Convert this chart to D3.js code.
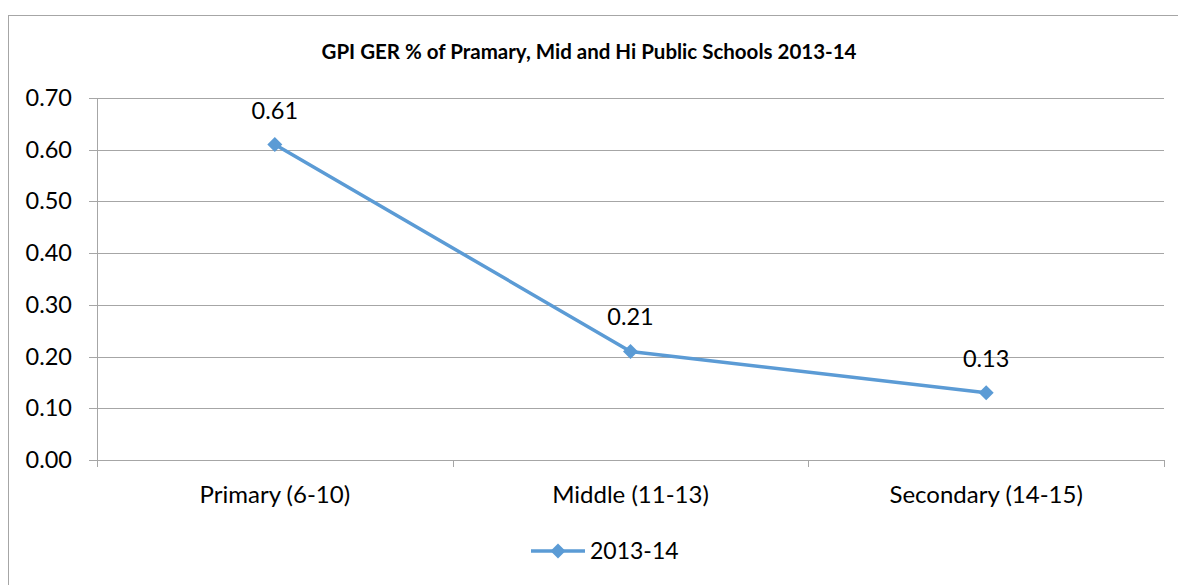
<!DOCTYPE html>
<html><head><meta charset="utf-8">
<script src="https://cdn.jsdelivr.net/npm/d3@7"></script>
<style>body{margin:0;background:#fff}svg{display:block}text{font-family:Lato,"Open Sans",sans-serif}</style>
</head><body>
<svg id="c" width="1178" height="585"></svg>
<script>
const categories = ["Primary (6-10)", "Middle (11-13)", "Secondary (14-15)"];
const values = [0.61, 0.21, 0.13];
const seriesName = "2013-14";
const yTicks = [0, 0.1, 0.2, 0.3, 0.4, 0.5, 0.6, 0.7];
const title = "GPI GER % of Pramary, Mid and Hi Public Schools 2013-14";

const svg = d3.select("#c");
const color = "#5b9bd5", grid = "#a6a6a6";
const L = 97, R = 1164, T = 98, B = 460;
const marker = "M0,-7.5L7.5,0L0,7.5L-7.5,0Z";

svg.append("rect").attr("x", 8.5).attr("y", 15.5).attr("width", 1200).attr("height", 600)
  .attr("fill", "#fff").attr("stroke", "#a6a6a6").attr("stroke-width", 1);

svg.append("text").attr("x", 589).attr("y", 58.5).attr("text-anchor", "middle")
  .attr("font-size", 20.5).attr("font-weight", "bold").text(title);

const x = d3.scaleBand().domain(categories).range([L, R]);
const y = d3.scaleLinear().domain([0, 0.7]).range([B, T]);

svg.append("g").selectAll("line").data(yTicks).join("line")
  .attr("x1", L - 8).attr("x2", R).attr("y1", d => Math.round(y(d)) + 0.5).attr("y2", d => Math.round(y(d)) + 0.5)
  .attr("stroke", grid).attr("stroke-width", 1);

svg.append("line").attr("x1", L + 0.5).attr("x2", L + 0.5).attr("y1", T).attr("y2", B)
  .attr("stroke", grid);

const bounds = categories.map(c => x(c)).concat([R]);
svg.append("g").selectAll("line").data(bounds).join("line")
  .attr("x1", d => Math.round(d) + 0.5).attr("x2", d => Math.round(d) + 0.5)
  .attr("y1", B).attr("y2", B + 7).attr("stroke", grid);

svg.append("g").selectAll("text").data(yTicks).join("text")
  .attr("x", 72).attr("y", d => y(d) + 8).attr("text-anchor", "end")
  .attr("font-size", 23.5).text(d => d.toFixed(2));

svg.append("g").selectAll("text").data(categories).join("text")
  .attr("x", d => x(d) + x.bandwidth() / 2).attr("y", B + 43).attr("text-anchor", "middle")
  .attr("font-size", 24).text(d => d);

const cx = (d, i) => x(categories[i]) + x.bandwidth() / 2;
const line = d3.line().x((d, i) => cx(d, i)).y(d => y(d));
svg.append("path").datum(values).attr("d", line).attr("fill", "none")
  .attr("stroke", color).attr("stroke-width", 3.5).attr("stroke-linejoin", "round");

svg.append("g").selectAll("path").data(values).join("path")
  .attr("transform", (d, i) => `translate(${cx(d, i)},${y(d)})`)
  .attr("d", marker).attr("fill", color);

svg.append("g").selectAll("text").data(values).join("text")
  .attr("x", (d, i) => cx(d, i)).attr("y", d => y(d) - 26).attr("text-anchor", "middle")
  .attr("font-size", 23.5).text(d => d.toFixed(2));

svg.append("line").attr("x1", 531).attr("x2", 585).attr("y1", 551).attr("y2", 551)
  .attr("stroke", color).attr("stroke-width", 3.5);
svg.append("path").attr("transform", "translate(558,551)").attr("d", marker).attr("fill", color);
svg.append("text").attr("x", 590).attr("y", 558.5).attr("font-size", 23).text(seriesName);
</script>
</body></html>
